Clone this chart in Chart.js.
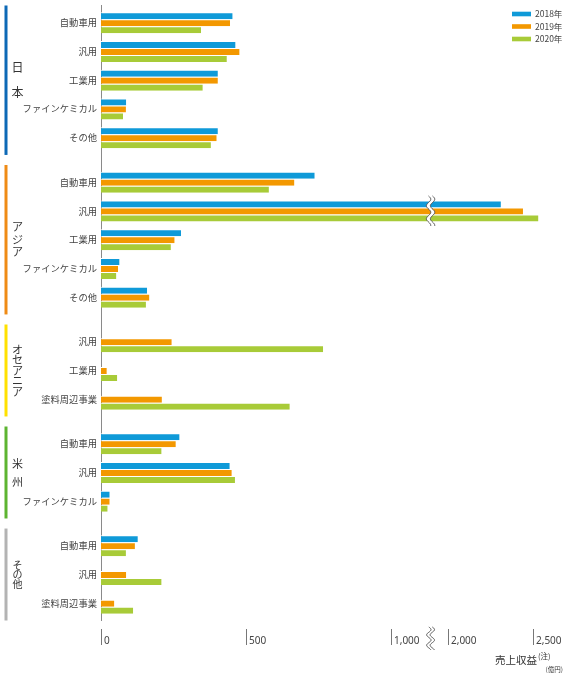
<!DOCTYPE html>
<html lang="ja">
<head>
<meta charset="utf-8">
<style>
  html, body { margin: 0; padding: 0; background: #fff; }
  #wrap { width: 567px; height: 678px; position: relative; }
</style>
<script src="https://cdn.jsdelivr.net/npm/chart.js@4.4.1/dist/chart.umd.min.js"></script>
</head>
<body>
<div id="wrap"><canvas id="chart"></canvas></div>
<script>
// Regions and their rows (top to bottom)
const regions = ['日本', 'アジア', 'オセアニア', '米州', 'その他'];
const regionItems = [
  ['自動車用', '汎用', '工業用', 'ファインケミカル', 'その他'],
  ['自動車用', '汎用', '工業用', 'ファインケミカル', 'その他'],
  ['汎用', '工業用', '塗料周辺事業'],
  ['自動車用', '汎用', 'ファインケミカル'],
  ['自動車用', '汎用', '塗料周辺事業']
];
const years = ['2018年', '2019年', '2020年'];

// 売上収益 (億円), same row order as regionItems
const sales2018 = [454, 464, 403, 87, 403,  737, 2314, 276, 64, 159,  null, null, null,  271, 444, 30,  127, null, null];
const sales2019 = [445, 478, 403, 86, 399,  667, 2444, 254, 59, 167,  244, 20, 210,    258, 451, 30,  117, 87, 46];
const sales2020 = [345, 434, 351, 76, 379,  579, 2535, 241, 53, 155,  766, 56, 651,    209, 462, 23,  86, 209, 111];

const tickValues = [0, 500, 1000, 2000, 2500];
const tickLabels = ['0', '500', '1,000', '2,000', '2,500'];

// styles
const barColors = ['#0f9ad8', '#f39800', '#a8cb38'];
const regionColors = ['#0d69b6', '#ef8b16', '#ffe100', '#5db431', '#b3b3b3'];
const regionFont = [12, 11, 11, 11, 10];
const regionCharGap = [25, 12.5, 10.5, 18, 9.5];
const GROUP_GAP = 0.55;
const FONT = "'Noto Sans CJK JP', 'Noto Sans', sans-serif";

// axis break: 1000..2000 squeezed, upper part on a smaller scale
const BREAK_LO = 1000, BREAK_HI = 2000;
const BREAK_SQUEEZE = 0.195, UPPER_RATIO = 0.586;
const BREAK_MARK = 1700;

function toDisplay(v) {
  if (v <= BREAK_LO) return v;
  if (v <= BREAK_HI) return BREAK_LO + (v - BREAK_LO) * BREAK_SQUEEZE;
  return BREAK_LO + (BREAK_HI - BREAK_LO) * BREAK_SQUEEZE + (v - BREAK_HI) * UPPER_RATIO;
}
function fromDisplay(d) {
  const mid = BREAK_LO + (BREAK_HI - BREAK_LO) * BREAK_SQUEEZE;
  if (d <= BREAK_LO) return d;
  if (d <= mid) return BREAK_LO + (d - BREAK_LO) / BREAK_SQUEEZE;
  return BREAK_HI + (d - mid) / UPPER_RATIO;
}

class BrokenLinearScale extends Chart.LinearScale {
  static id = 'brokenLinear';
  static defaults = Chart.LinearScale.defaults;
  buildTicks() {
    return tickValues.map(v => ({ value: v }));
  }
  getPixelForValue(v) {
    const lo = toDisplay(this.min), hi = toDisplay(this.max);
    return this.getPixelForDecimal((toDisplay(v) - lo) / (hi - lo));
  }
  getValueForPixel(px) {
    const lo = toDisplay(this.min), hi = toDisplay(this.max);
    return fromDisplay(lo + this.getDecimalForPixel(px) * (hi - lo));
  }
}
Chart.register(BrokenLinearScale);

// row positions on the y axis, with a gap between regions
const rowPos = [], rowLabels = [], regionSpan = [];
let p = 0;
regionItems.forEach(items => {
  const start = p;
  items.forEach(name => { rowPos.push(p); rowLabels.push(name); p += 1; });
  regionSpan.push([start, p - 1]);
  p += GROUP_GAP;
});
const lastPos = rowPos[rowPos.length - 1];

function series(values) {
  return values.map((v, i) => ({ x: v, y: rowPos[i] }));
}

function wave(ctx, cx, y0, y1, amp, cycles, reverse) {
  const n = 40;
  for (let k = 0; k <= n; k++) {
    const t = reverse ? 1 - k / n : k / n;
    const yy = y0 + t * (y1 - y0);
    const xx = cx + amp * Math.sin(t * cycles * Math.PI * 2);
    if (k === 0 && !reverse) ctx.moveTo(xx, yy); else ctx.lineTo(xx, yy);
  }
}

function drawBreak(ctx, cx, y0, y1, amp, cycles, gap) {
  ctx.beginPath();
  wave(ctx, cx - gap / 2, y0, y1, amp, cycles, false);
  wave(ctx, cx + gap / 2, y0, y1, amp, cycles, true);
  ctx.closePath();
  ctx.fillStyle = '#fff';
  ctx.fill();
  ctx.strokeStyle = '#555';
  ctx.lineWidth = 1;
  ctx.beginPath();
  wave(ctx, cx - gap / 2, y0, y1, amp, cycles, false);
  ctx.stroke();
  ctx.beginPath();
  wave(ctx, cx + gap / 2, y0, y1, amp, cycles, false);
  ctx.stroke();
}

const decorPlugin = {
  id: 'decor',
  afterDraw(chart) {
    const { ctx, scales: { x, y } } = chart;
    ctx.save();

    // region bars + vertical names
    regions.forEach((name, r) => {
      const [a, b] = regionSpan[r];
      const top = y.getPixelForValue(a - 0.6);
      const bot = y.getPixelForValue(b + 0.6);
      ctx.fillStyle = regionColors[r];
      ctx.fillRect(4.5, top, 3, bot - top);
      const chars = Array.from(name);
      const mid = (top + bot) / 2;
      ctx.fillStyle = '#333';
      ctx.font = regionFont[r] + 'px ' + FONT;
      ctx.textAlign = 'center';
      ctx.textBaseline = 'middle';
      chars.forEach((ch, k) => {
        ctx.fillText(ch, 17.5, mid + (k - (chars.length - 1) / 2) * regionCharGap[r]);
      });
    });

    // break mark on bars that cross the gap
    const bx = x.getPixelForValue(BREAK_MARK);
    rowPos.forEach((pos, i) => {
      const m = Math.max(sales2018[i] || 0, sales2019[i] || 0, sales2020[i] || 0);
      if (m > BREAK_HI) {
        const cy = y.getPixelForValue(pos);
        drawBreak(ctx, bx, cy - 15, cy + 15, 2.2, 2.3, 4);
      }
    });

    // bottom axis ticks and labels
    const tickTop = 629, tickBot = 645;
    ctx.strokeStyle = '#777';
    ctx.lineWidth = 1;
    ctx.fillStyle = '#444';
    ctx.font = "10px 'Noto Sans', sans-serif";
    ctx.textAlign = 'left';
    ctx.textBaseline = 'alphabetic';
    tickValues.forEach((v, i) => {
      const px = Math.round(x.getPixelForValue(v)) + 0.5;
      ctx.beginPath();
      ctx.moveTo(px, tickTop);
      ctx.lineTo(px, tickBot);
      ctx.stroke();
      ctx.fillText(tickLabels[i], px + 2.5, 644);
    });
    drawBreak(ctx, bx, 627, 650, 2.2, 2.2, 3.5);

    // axis title
    ctx.fillStyle = '#333';
    ctx.font = '10.5px ' + FONT;
    ctx.textAlign = 'right';
    ctx.fillText('売上収益', 537, 663.5);
    ctx.font = '7.5px ' + FONT;
    ctx.textAlign = 'left';
    ctx.fillText('(注)', 538, 659);
    ctx.font = '6.5px ' + FONT;
    ctx.textAlign = 'right';
    ctx.fillText('(億円)', 563, 672);

    // legend
    ctx.font = '8.5px ' + FONT;
    ctx.textAlign = 'left';
    ctx.textBaseline = 'middle';
    years.forEach((yr, i) => {
      const yy = 14 + i * 12.5;
      ctx.fillStyle = barColors[i];
      ctx.fillRect(512, yy - 2.3, 19, 4.6);
      ctx.fillStyle = '#444';
      ctx.fillText(yr, 535, yy);
    });

    ctx.restore();
  }
};

Chart.defaults.font.family = FONT;

const barStyle = {
  barThickness: 7,
  borderWidth: { top: 1, right: 0, bottom: 0, left: 0 },
  borderColor: '#fff',
  borderSkipped: false,
  inflateAmount: 0
};

new Chart(document.getElementById('chart'), {
  type: 'bar',
  data: {
    datasets: [
      { label: years[0], data: series(sales2018), backgroundColor: barColors[0], ...barStyle },
      { label: years[1], data: series(sales2019), backgroundColor: barColors[1], ...barStyle },
      { label: years[2], data: series(sales2020), backgroundColor: barColors[2], ...barStyle }
    ]
  },
  options: {
    indexAxis: 'y',
    responsive: true,
    maintainAspectRatio: false,
    animation: false,
    layout: { padding: { left: 0, right: 26, top: 5.5, bottom: 57.5 } },
    plugins: {
      legend: { display: false },
      tooltip: { enabled: false }
    },
    scales: {
      x: {
        type: 'brokenLinear',
        min: 0,
        max: 2550,
        display: false
      },
      y: {
        type: 'linear',
        reverse: true,
        offset: false,
        min: -0.6,
        max: lastPos + 0.6,
        afterBuildTicks: (scale) => { scale.ticks = rowPos.map(v => ({ value: v })); },
        afterFit: (scale) => {
          scale.width = 101;
          scale.paddingTop = 0;
          scale.paddingBottom = 0;
        },
        grid: { display: false, drawTicks: false, offset: false },
        border: { display: true, color: '#8a8a8a', width: 1 },
        ticks: {
          autoSkip: false,
          padding: 4,
          color: '#444',
          font: { size: 9.3, family: FONT },
          callback: (value, index) => rowLabels[index] || ''
        }
      }
    }
  },
  plugins: [decorPlugin]
});
</script>
</body>
</html>
